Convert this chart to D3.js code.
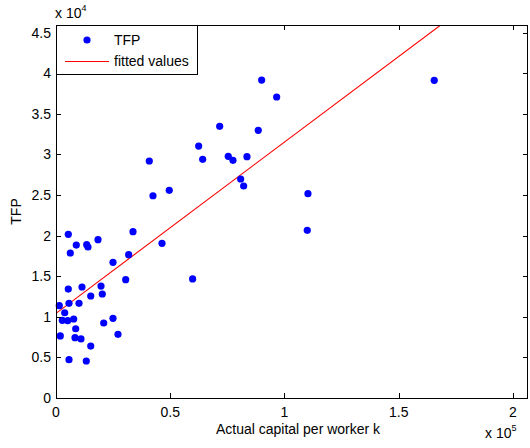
<!DOCTYPE html>
<html>
<head>
<meta charset="utf-8">
<script src="https://cdn.jsdelivr.net/npm/d3@7"></script>
<style>
  body { margin: 0; background: #fff; }
  svg { display: block; font-family: "Liberation Sans", Arial, sans-serif; }
</style>
</head>
<body>
<div id="chart"></div>
<script>
let w = 530;
let h = 448;

// capital per worker k and TFP
const capital = [5380, 8880, 6260, 13440, 14000, 18380, 33700, 46390, 24950, 31800,
  30500, 59800, 19700, 11380, 5380, 15200, 20260, 1440, 5690, 10070,
  3810, 2760, 5120, 7750, 24950, 20880, 8620, 1880, 8320, 10940,
  27130, 15200, 5690, 13260, 90020, 88530, 71640, 62450, 64200, 75400,
  77460, 83590, 80830, 82140, 40830, 42450, 49580, 96590, 165560, 110280,
  109980];
const tfp = [20160, 18840, 17860, 18880, 18600, 19500, 20480, 19050, 16710, 17650,
  14570, 14660, 13790, 13670, 13420, 12560, 12810, 11370, 11660, 11660,
  10500, 9570, 9520, 9730, 9810, 9240, 8530, 7640, 7430, 7270,
  7840, 6400, 4720, 4560, 39160, 32970, 33460, 31030, 29400, 29770,
  29270, 29720, 26970, 26110, 29190, 24910, 25580, 37070, 39130, 25160,
  20650];

// fitted line end points
const fitK = [0, 168400];
const fitTfp = [10430, 45940];

const xTicks = [0, 50000, 100000, 150000, 200000];
const xTickLabels = ["0", "0.5", "1", "1.5", "2"];
const yTicks = [0, 5000, 10000, 15000, 20000, 25000, 30000, 35000, 40000, 45000];
const yTickLabels = ["0", "0.5", "1", "1.5", "2", "2.5", "3", "3.5", "4", "4.5"];

const pLeft = 56, pRight = 528, pTop = 25, pBottom = 398;
const fs = 14;

let svg = d3.select("#chart")
  .append("svg")
  .attr("width", w)
  .attr("height", h);

let x = d3.scaleLinear().domain([0, 206600]).range([pLeft, pRight]);
let y = d3.scaleLinear().domain([0, 45940]).range([pBottom, pTop]);

let points = capital.map((k, i) => ({ k: k, t: tfp[i] }));
let fit = fitK.map((k, i) => ({ k: k, t: fitTfp[i] }));

svg.append("clipPath")
  .attr("id", "plotclip")
  .append("rect")
  .attr("x", pLeft).attr("y", pTop)
  .attr("width", pRight - pLeft).attr("height", pBottom - pTop);

// fitted line
svg.append("path")
  .datum(fit)
  .attr("clip-path", "url(#plotclip)")
  .attr("fill", "none")
  .attr("stroke", "#ff0000")
  .attr("stroke-width", 1.1)
  .attr("d", d3.line().x(d => x(d.k)).y(d => y(d.t)));

// dots
svg.append("g")
  .selectAll("circle")
  .data(points)
  .join("circle")
  .attr("cx", d => x(d.k))
  .attr("cy", d => y(d.t))
  .attr("r", 3.6)
  .attr("fill", "#0000ff");

// axes: ticks inward on all four sides
let tickLen = 5;
let tickStyle = g => g.attr("stroke", "#000").attr("stroke-width", 1);

svg.append("g").call(tickStyle)
  .selectAll("line")
  .data(xTicks)
  .join("line")
  .attr("x1", d => Math.round(x(d)) + 0.5).attr("x2", d => Math.round(x(d)) + 0.5)
  .attr("y1", pBottom).attr("y2", pBottom - tickLen);

svg.append("g").call(tickStyle)
  .selectAll("line")
  .data(xTicks)
  .join("line")
  .attr("x1", d => Math.round(x(d)) + 0.5).attr("x2", d => Math.round(x(d)) + 0.5)
  .attr("y1", pTop).attr("y2", pTop + tickLen);

svg.append("g").call(tickStyle)
  .selectAll("line")
  .data(yTicks)
  .join("line")
  .attr("y1", d => Math.round(y(d)) + 0.5).attr("y2", d => Math.round(y(d)) + 0.5)
  .attr("x1", pLeft).attr("x2", pLeft + tickLen);

svg.append("g").call(tickStyle)
  .selectAll("line")
  .data(yTicks)
  .join("line")
  .attr("y1", d => Math.round(y(d)) + 0.5).attr("y2", d => Math.round(y(d)) + 0.5)
  .attr("x1", pRight).attr("x2", pRight - tickLen);

svg.append("rect")
  .attr("x", pLeft + 0.5).attr("y", pTop + 0.5)
  .attr("width", pRight - pLeft - 1).attr("height", pBottom - pTop)
  .attr("fill", "none")
  .attr("stroke", "#000")
  .attr("stroke-width", 1);

// tick labels
svg.append("g")
  .selectAll("text")
  .data(xTicks)
  .join("text")
  .attr("x", d => x(d))
  .attr("y", pBottom + 19)
  .attr("text-anchor", "middle")
  .attr("font-size", fs)
  .text((d, i) => xTickLabels[i]);

svg.append("g")
  .selectAll("text")
  .data(yTicks)
  .join("text")
  .attr("x", pLeft - 5)
  .attr("y", d => y(d))
  .attr("dy", "0.35em")
  .attr("text-anchor", "end")
  .attr("font-size", fs)
  .text((d, i) => yTickLabels[i]);

// exponent labels
let e4 = svg.append("text").attr("x", 55).attr("y", 18).attr("font-size", fs);
e4.append("tspan").text("x 10");
e4.append("tspan").attr("dy", -7).attr("font-size", 9).text("4");

let e5 = svg.append("text").attr("x", 485).attr("y", 438).attr("font-size", fs);
e5.append("tspan").text("x 10");
e5.append("tspan").attr("dy", -7).attr("font-size", 9).text("5");

// axis titles
svg.append("text")
  .attr("x", (pLeft + pRight) / 2 + 6)
  .attr("y", 434)
  .attr("text-anchor", "middle")
  .attr("font-size", fs)
  .text("Actual capital per worker k");

svg.append("text")
  .attr("transform", `translate(21, ${(pTop + pBottom) / 2}) rotate(-90)`)
  .attr("text-anchor", "middle")
  .attr("font-size", fs)
  .text("TFP");

// legend
let legend = svg.append("g");
legend.append("rect")
  .attr("x", pLeft + 0.5).attr("y", pTop + 0.5)
  .attr("width", 141).attr("height", 49)
  .attr("fill", "#fff")
  .attr("stroke", "#000");
legend.append("circle")
  .attr("cx", 87).attr("cy", 40).attr("r", 3.6).attr("fill", "#0000ff");
legend.append("text")
  .attr("x", 114).attr("y", 45).attr("font-size", fs).text("TFP");
legend.append("line")
  .attr("x1", 65).attr("x2", 109).attr("y1", 61.5).attr("y2", 61.5)
  .attr("stroke", "#ff0000");
legend.append("text")
  .attr("x", 114).attr("y", 66).attr("font-size", fs).text("fitted values");
</script>
</body>
</html>
